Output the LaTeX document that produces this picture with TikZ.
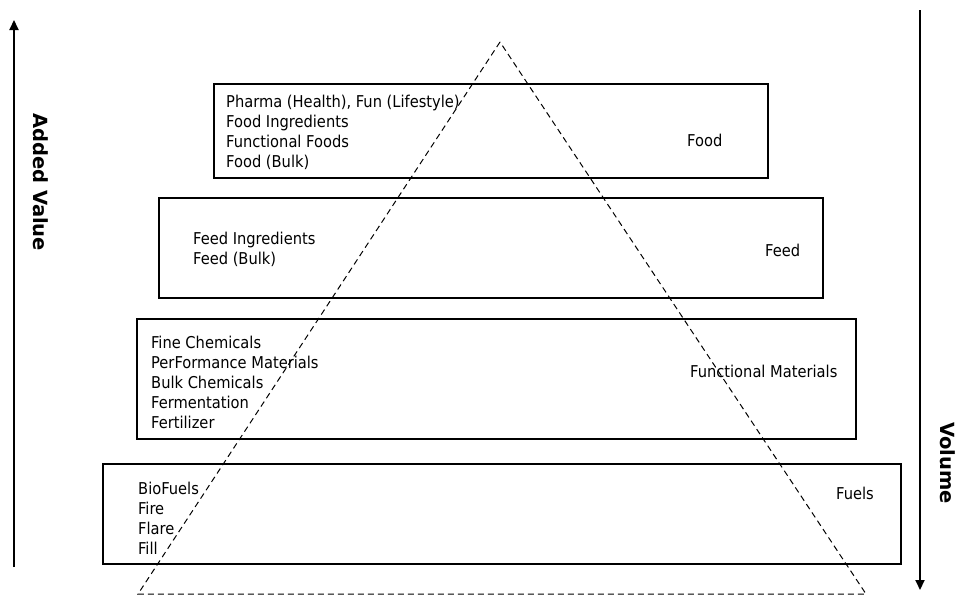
\documentclass[tikz,border=0pt]{standalone}
\usepackage{fontspec}
\setmainfont{DejaVu Sans Condensed}
\newfontfamily\axisfont{DejaVu Sans}
\usetikzlibrary{arrows.meta,positioning}

\begin{document}
\begin{tikzpicture}[x=1pt, y=-1pt,
    tier/.style={draw, line width=1.6pt, anchor=north west, inner sep=0pt},
    items/.style={anchor=west, align=left, inner sep=0pt, font=\fontsize{16.3}{20}\selectfont},
    tiername/.style={anchor=west, inner sep=0pt, font=\fontsize{16.3}{18}\selectfont},
    axis/.style={line width=2pt, -{Triangle[width=9pt,length=10pt]}},
    axisname/.style={rotate=-90, inner sep=0pt, font=\axisfont\bfseries\fontsize{19.5}{22}\selectfont}]
                                \useasboundingbox (0, 0) rectangle (956, 597);
                                \node[tier, minimum width=554pt, minimum height=94pt] (food) at (213, 83) {};
                                \node[tier, minimum width=664pt, minimum height=100pt] (feed) at (158, 197) {};
                                \node[tier, minimum width=719pt, minimum height=120pt] (materials) at (136, 318) {};
                                \node[tier, minimum width=798pt, minimum height=100pt] (fuels) at (102, 463) {};
                                \node[items] (foodlist) at (226, 132) {Pharma (Health), Fun (Lifestyle)\\Food Ingredients\\Functional Foods\\Food (Bulk)};
                                \node[items] (feedlist) at (193, 249.5) {Feed Ingredients\\Feed (Bulk)};
                                \node[items] (materialslist) at (151, 382.5) {Fine Chemicals\\PerFormance Materials\\Bulk Chemicals\\Fermentation\\Fertilizer};
                                \node[items] (fuelslist) at (138, 518) {BioFuels\\Fire\\Flare\\Fill};
                                \node[tiername] (foodname) at (687, 140) {Food};
                                \node[tiername] (feedname) at (765, 250) {Feed};
                                \node[tiername] (materialsname) at (690, 371) {Functional Materials};
                                \node[tiername] (fuelsname) at (836, 493) {Fuels};
                                \coordinate (apex) at (500, 42);
                                \coordinate (baseleft) at (138, 594);
                                \coordinate (baseright) at (866, 594);
                                \draw[dash pattern=on 6pt off 4pt, line width=1pt]
                                (apex) -- (baseleft) -- (baseright) -- cycle;
                                \coordinate (valuelow) at (14, 567);
                                \coordinate (valuehigh) at (14, 20);
                                \coordinate (volumelow) at (920, 590);
                                \coordinate (volumehigh) at (920, 10);
                                \draw[axis] (valuelow) -- (valuehigh);
                                \draw[axis] (volumehigh) -- (volumelow);
                                \node[axisname] (valuename) at (41, 182) {Added Value};
                                \node[axisname] (volumename) at (948, 463) {Volume};
                            \end{tikzpicture}
\end{document}
